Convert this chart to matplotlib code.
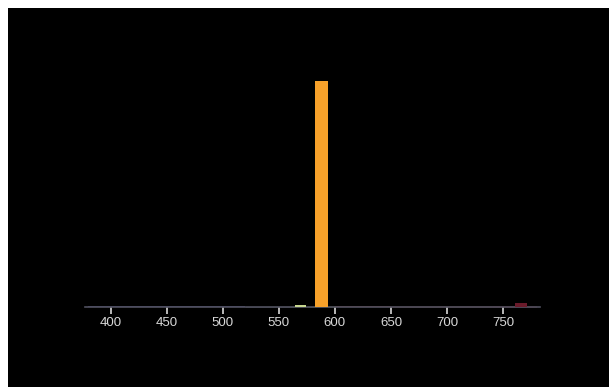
import matplotlib
matplotlib.use("Agg")
import matplotlib.pyplot as plt

# Data
tick_values = [400, 450, 500, 550, 600, 650, 700, 750]
line_wavelengths = [569, 588, 766]
line_intensity = [1.0, 100.0, 1.6]
line_widths = [10, 11, 10]
line_colors = ["#c8d890", "#f7a12a", "#6a1a2a"]
continuum_wl = [380, 450, 520, 560, 600, 650, 700, 740, 780]
continuum_int = [0.25, 0.25, 0.25, 0.3, 0.4, 0.4, 0.45, 0.5, 0.4]
continuum_colors = ["#3a3a6a", "#3a3a6a", "#3a4a4a", "#4a5a30", "#5a2a2a", "#5a2a2a", "#5a2a2a", "#6a2030", "#6a2030"]

W, H = 609, 387
fig = plt.figure(figsize=(W / 100, H / 100), dpi=100, facecolor="white")
bg = fig.add_axes([8 / W, 0, 1 - 8 / W, 1 - 8 / H])
bg.set_facecolor("black")
bg.set_xticks([])
bg.set_yticks([])
for s in bg.spines.values():
    s.set_visible(False)
bg.set_zorder(0)

left, right = 85 / W, 540 / W
bottom = 1 - 307 / H
top = 1 - 60 / H
ax = fig.add_axes([left, bottom, right - left, top - bottom])
ax.set_zorder(1)
ax.set_facecolor("none")
ax.set_xlim(377, 783)
ax.set_ylim(0, 100 * (307 - 60) / (307 - 81))

# faint continuum along the axis
for i in range(len(continuum_wl) - 1):
    ax.fill_between([continuum_wl[i], continuum_wl[i + 1]], 0,
                    [continuum_int[i], continuum_int[i + 1]],
                    color=continuum_colors[i], lw=0)

ax.bar(line_wavelengths, line_intensity, width=line_widths,
       color=line_colors, zorder=3)

for s in ["top", "right", "left"]:
    ax.spines[s].set_visible(False)
ax.spines["bottom"].set_color("#50505e")
ax.spines["bottom"].set_linewidth(1.2)
ax.set_yticks([])
ax.set_xticks(tick_values)
ax.set_xticklabels([str(v) for v in tick_values])
ax.tick_params(axis="x", colors="#d8d8d8", length=5, width=1.2, pad=2,
               labelsize=9.5)
for lab in ax.get_xticklabels():
    lab.set_family("Liberation Sans")

fig.savefig("out.png", dpi=100, facecolor="white")
